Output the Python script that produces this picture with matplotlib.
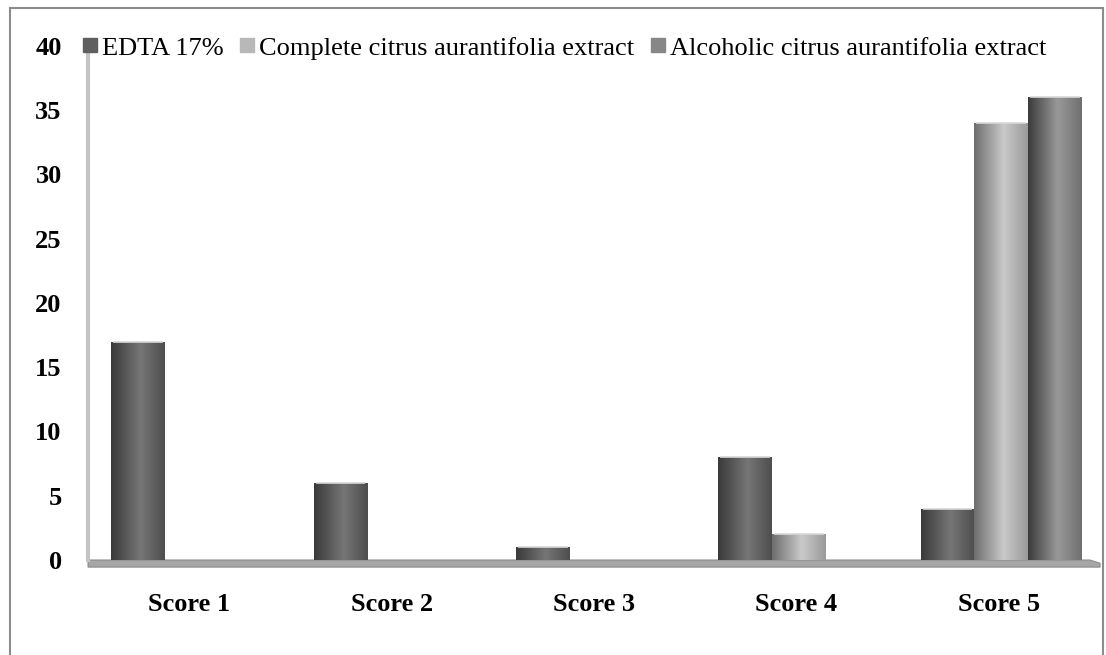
import numpy as np
import matplotlib.pyplot as plt
from matplotlib.lines import Line2D
from matplotlib.patches import Rectangle, Polygon

categories = ["Score 1", "Score 2", "Score 3", "Score 4", "Score 5"]
series_names = ["EDTA 17%", "Complete citrus aurantifolia extract",
                "Alcoholic citrus aurantifolia extract"]
edta = [17, 6, 1, 8, 4]
complete = [0, 0, 0, 2, 34]
alcoholic = [0, 0, 0, 0, 36]

# (left edge, highlight, right edge) shades for the cylinder look
shades = [
    ("#3a3a3a", "#767676", "#4e4e4e"),
    ("#6e6e6e", "#cacaca", "#9a9a9a"),
    ("#3c3c3c", "#999999", "#707070"),
]
legend_colors = ["#5f5f5f", "#b8b8b8", "#878787"]

plt.rcParams['font.family'] = ['Liberation Serif', 'DejaVu Serif']

fig = plt.figure(figsize=(11.06, 6.55), dpi=100)
ax = fig.add_axes([0.0796, 0.145, 0.915, 0.785])

# outer frame
fig.patches.append(Rectangle((10 / 1106, -0.05), 1093 / 1106, 1 - 8 / 655 + 0.05,
                             transform=fig.transFigure, fill=False,
                             edgecolor="#8c8c8c", linewidth=1.5))


def gradient(c_left, c_mid, c_right, n=64):
    cl = np.array(plt.matplotlib.colors.to_rgb(c_left))
    cm = np.array(plt.matplotlib.colors.to_rgb(c_mid))
    cr = np.array(plt.matplotlib.colors.to_rgb(c_right))
    t = np.linspace(0, 1, n)
    out = np.zeros((1, n, 3))
    for i, v in enumerate(t):
        if v < 0.55:
            f = v / 0.55
            out[0, i] = cl * (1 - f) + cm * f
        else:
            f = (v - 0.55) / 0.45
            out[0, i] = cm * (1 - f) + cr * f
    return out


x = np.arange(len(categories))
width = 0.265
all_series = [edta, complete, alcoholic]
for k, vals in enumerate(all_series):
    offs = (k - 1) * width + 0.012
    bars = ax.bar(x + offs, vals, width, color=shades[k][1], edgecolor="none", zorder=2)
    grad = gradient(*shades[k])
    for b in bars:
        h = b.get_height()
        if h <= 0:
            continue
        x0 = b.get_x()
        im = ax.imshow(grad, extent=[x0, x0 + width, 0, h], aspect='auto',
                       zorder=3, interpolation='bilinear')
        im.set_clip_path(b)
        # light rim on top of cylinder
        ax.plot([x0 + 0.01, x0 + width - 0.01], [h, h], color="#d8d8d8",
                lw=1.2, zorder=4, solid_capstyle='butt')

ax.set_xlim(-0.5, 4.5)
ax.set_ylim(0, 40)

# floor slab
floor = Polygon([(-0.5, 0), (4.45, 0), (4.5, -0.25), (4.5, -0.55), (-0.5, -0.55)],
                closed=True, facecolor="#a6a6a6", edgecolor="#8a8a8a", lw=0.8,
                clip_on=False, zorder=1)
ax.add_patch(floor)

for s in ["top", "right", "bottom"]:
    ax.spines[s].set_visible(False)
ax.spines["left"].set_color("#c4c4c4")
ax.spines["left"].set_linewidth(3)

ax.set_yticks(range(0, 41, 5))
ax.set_xticks(x)
ax.set_xticklabels(categories)
ax.tick_params(axis='both', length=0, labelsize=19)
ax.tick_params(axis='y', pad=19)
ax.tick_params(axis='x', pad=24)
for lab in ax.get_xticklabels() + ax.get_yticklabels():
    lab.set_fontweight('bold')

handles = [Line2D([], [], marker='s', linestyle='none', markersize=9.5,
                  markerfacecolor=c, markeredgecolor=c) for c in legend_colors]
ax.legend(handles, series_names, loc='center left',
          bbox_to_anchor=(82 / 1106, 1 - 48 / 655), bbox_transform=fig.transFigure,
          ncol=3, frameon=False, fontsize=19, handlelength=0.6,
          handletextpad=0.15, columnspacing=0.6, borderpad=0, borderaxespad=0)

fig.savefig("out.png", dpi=100)
